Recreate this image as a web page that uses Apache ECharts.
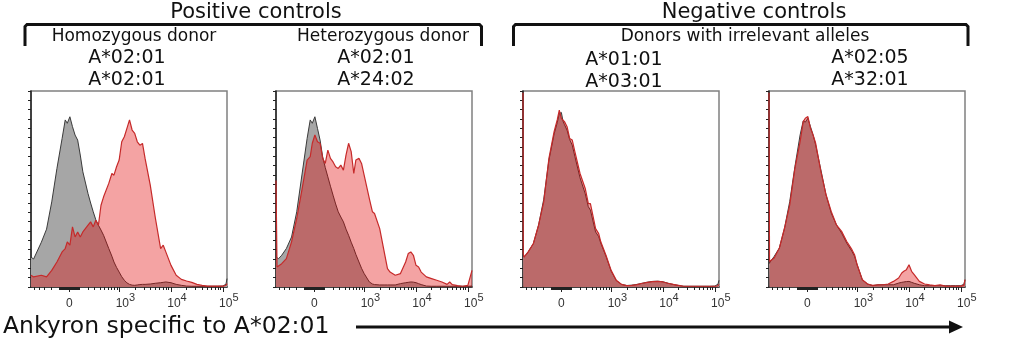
<!DOCTYPE html>
<html>
<head>
<meta charset="utf-8">
<script src="https://cdn.jsdelivr.net/npm/echarts@6/dist/echarts.min.js"></script>
<style>
html, body { margin: 0; padding: 0; background: #fff; }
#chart { width: 1024px; height: 340px; }
</style>
</head>
<body>
<div id="chart"></div>
<script>
// x values are positions on the biexponential display axis (1 unit = 1 decade, 10^3 -> 3)
// y values are % of the panel's max (modal scale)

// panel 1: homozygous A*02:01/A*02:01
const p1X = [1.3, 1.35, 1.5, 1.6, 1.7, 1.8, 1.9, 1.96, 2.0, 2.05, 2.1, 2.15, 2.2, 2.25, 2.3, 2.4, 2.45, 2.5, 2.55, 2.6, 2.65, 2.7, 2.8, 2.86, 2.9, 2.95, 3.0, 3.05, 3.1, 3.15, 3.2, 3.25, 3.3, 3.35, 3.4, 3.45, 3.5, 3.6, 3.7, 3.8, 3.85, 3.9, 4.0, 4.1, 4.2, 4.3, 4.4, 4.5, 4.6, 4.7, 4.8, 4.9, 5.0, 5.06, 5.08];
const p1Gray = [16, 15, 24, 31, 45.6, 63.5, 79.6, 89.5, 87.7, 91.2, 85.9, 81.4, 78.7, 70.7, 61.7, 50, 45, 40.3, 36, 33.1, 30.5, 27.7, 20.6, 16.5, 13.4, 10.5, 8, 5.5, 3.6, 2.2, 1.4, 1.0, 0.9, 1.1, 1.3, 1.4, 1.4, 1.6, 2, 2.3, 2.5, 2.7, 2.3, 1.4, 0.9, 0.5, 0.4, 0.4, 0.4, 0.4, 0.4, 0.4, 0.5, 1.5, 4.5];
const p1Red = [6.3, 5.4, 6.3, 5.4, 8.9, 13.4, 18.8, 20.6, 24.2, 22.4, 32.2, 26.8, 29.5, 26.8, 29.5, 33.1, 34.9, 32.2, 35.8, 33.1, 43.8, 48.3, 55.5, 60.8, 59.9, 64.4, 68, 77.8, 80.5, 85, 89.5, 84.1, 82.3, 77.8, 76, 76.9, 68.9, 54.6, 36.7, 20.6, 22.4, 18.8, 11.6, 6.3, 4.1, 3.2, 2.5, 1.4, 0.9, 0.5, 0.5, 0.5, 0.5, 0.8, 1.8];

// panel 2: heterozygous A*02:01/A*24:02
const p2X = [1.3, 1.32, 1.35, 1.41, 1.5, 1.6, 1.7, 1.8, 1.9, 1.96, 2.0, 2.05, 2.1, 2.15, 2.2, 2.25, 2.3, 2.35, 2.4, 2.45, 2.5, 2.55, 2.6, 2.65, 2.7, 2.75, 2.8, 2.84, 2.9, 2.95, 3.0, 3.1, 3.16, 3.2, 3.3, 3.4, 3.45, 3.5, 3.6, 3.7, 3.8, 3.85, 3.9, 3.95, 4.0, 4.05, 4.1, 4.2, 4.3, 4.4, 4.5, 4.6, 4.65, 4.7, 4.8, 4.9, 5.0, 5.08];
const p2Gray = [16, 15.5, 15.2, 17, 20.6, 26.8, 40.3, 60, 79.6, 89.5, 87.7, 91.2, 85, 78.7, 69.8, 64, 59, 54, 49.2, 44.5, 40.3, 37.5, 34.9, 31, 27.7, 24, 20.6, 17.5, 13.4, 10, 7.2, 2.7, 1.6, 1.3, 1.1, 1.1, 1.1, 1.1, 1.1, 1.8, 2.3, 2.5, 2.7, 2.6, 2.3, 1.8, 1.3, 0.5, 0.4, 0.4, 0.4, 0.4, 0.4, 0.4, 0.4, 0.4, 0.4, 0.5];
const p2Red = [57, 10.7, 10.2, 12.5, 15.2, 24.2, 36.7, 52, 68, 69.8, 77, 81.4, 77.8, 77, 68.9, 66.2, 73.3, 68.9, 67, 64.4, 63.5, 65.3, 62.6, 70.7, 77, 72.5, 60.8, 68, 68.9, 66.2, 59.9, 47.4, 40.3, 39.4, 31.3, 17, 9.8, 8, 6.3, 7.2, 13.4, 17.9, 18.8, 17, 11.6, 10.7, 8, 5.4, 4.5, 3.6, 2.7, 1.4, 2.7, 1.3, 0.7, 0.4, 0.9, 8.9];

// panel 3: A*01:01/A*03:01
const p3X = [1.3, 1.305, 1.32, 1.4, 1.5, 1.6, 1.7, 1.8, 1.9, 1.96, 2.0, 2.04, 2.07, 2.1, 2.15, 2.2, 2.25, 2.3, 2.4, 2.5, 2.56, 2.6, 2.7, 2.76, 2.8, 2.9, 3.0, 3.1, 3.2, 3.3, 3.4, 3.5, 3.6, 3.7, 3.8, 3.9, 4.0, 4.1, 4.2, 4.3, 4.4, 4.5, 4.7, 4.9, 5.0, 5.06, 5.08];
const p3Gray = [18, 17, 16, 18.8, 23.3, 33.1, 47, 68, 82, 88, 92.9, 93.5, 89, 87, 84, 79, 76, 70, 58.5, 50, 43, 41.2, 29.5, 27, 23.5, 16.5, 8.5, 3.4, 1.4, 0.8, 1, 1.4, 2, 2.6, 3, 3.1, 2.8, 2, 1.3, 0.8, 0.4, 0.4, 0.4, 0.4, 0.5, 1.5, 3.6];
const p3Red = [104, 18, 16, 18.8, 23.3, 33.1, 45.6, 68.9, 83.2, 89.5, 94.8, 90.3, 91.2, 88.6, 85.9, 79.6, 78.7, 72.5, 60.8, 52.8, 44.7, 44.7, 31.3, 28.6, 24.2, 17, 8.9, 3.6, 1.4, 0.7, 0.9, 1.3, 2, 2.5, 2.9, 3, 2.7, 2, 1.4, 0.9, 0.4, 0.4, 0.4, 0.4, 0.4, 0.6, 1.5];

// panel 4: A*02:05/A*32:01
const p4X = [1.3, 1.31, 1.4, 1.5, 1.6, 1.7, 1.8, 1.9, 1.96, 2.0, 2.05, 2.1, 2.15, 2.2, 2.3, 2.4, 2.5, 2.6, 2.7, 2.8, 2.9, 2.95, 3.0, 3.1, 3.2, 3.3, 3.4, 3.5, 3.6, 3.7, 3.8, 3.86, 3.9, 3.95, 4.0, 4.05, 4.1, 4.2, 4.3, 4.4, 4.5, 4.6, 4.7, 4.8, 4.9, 5.0, 5.06, 5.08];
const p4Gray = [12.5, 13, 16.4, 20.9, 31.6, 45.8, 64.5, 81.5, 89, 88.3, 90.4, 85.9, 81.5, 76.1, 62.8, 49.4, 39.6, 33.3, 28.9, 23.5, 19.1, 16.5, 11.9, 3.9, 1.6, 0.7, 1.2, 1.2, 1.2, 1.2, 2.1, 2.5, 2.7, 2.9, 3, 2.5, 2, 1.2, 0.7, 0.7, 0.7, 0.7, 0.7, 0.7, 0.7, 0.7, 1.5, 3.9];
const p4Red = [104, 13.7, 15.5, 20.9, 31.6, 44, 63.7, 77.9, 88.6, 90.4, 91.3, 85, 81.5, 77, 61.9, 49.4, 40.5, 33.3, 29.8, 24.4, 20, 17.3, 11.9, 3.9, 1.6, 0.9, 1.1, 1.2, 1.6, 3, 4.8, 7.5, 8.4, 9.3, 11.9, 8.4, 6.6, 3, 1.6, 1.1, 0.7, 1.2, 0.5, 0.5, 0.5, 0.5, 1, 3.9];

// axis ticks (raw fluorescence values) and labels
const majorTickValues = [0, 1000, 10000, 100000];
const majorTickLabels = ['{z|0}', '{b|10}{s|3}', '{b|10}{s|4}', '{b|10}{s|5}'];

const headings = ['Positive controls', 'Negative controls'];
const subheadings = ['Homozygous donor', 'Heterozygous donor', 'Donors with irrelevant alleles'];
const alleles = [['A*02:01', 'A*02:01'], ['A*02:01', 'A*24:02'], ['A*01:01', 'A*03:01'], ['A*02:05', 'A*32:01']];
const axisTitle = 'Ankyron specific to A*02:01';

// biexponential (arcsinh) display transform
const W = 110;
const toDisplay = (v) => Math.log10(W) + Math.asinh(v / (2 * W)) / Math.LN10;

const minorTickValues = [];
for (let v = -500; v <= -200; v += 100) minorTickValues.push(v);
for (let v = -100; v <= 100; v += 10) if (v !== 0) minorTickValues.push(v);
for (let d = 100; d <= 10000; d *= 10) {
  for (let k = 2; k <= 9; k++) minorTickValues.push(k * d);
}

const majorPos = majorTickValues.map(toDisplay);
const minorPos = minorTickValues.map(toDisplay);
const xMin = 1.3, xMax = 5.08;

const panels = [
  { x: p1X, gray: p1Gray, red: p1Red },
  { x: p2X, gray: p2Gray, red: p2Red },
  { x: p3X, gray: p3Gray, red: p3Red },
  { x: p4X, gray: p4Gray, red: p4Red },
];
const panelLefts = [31, 276, 523, 769];

const axisColor = '#222';
const labelFont = 'Liberation Sans';

const grid = [], xAxis = [], yAxis = [], series = [];
panels.forEach((p, i) => {
  grid.push({
    left: panelLefts[i], top: 91, width: 196, height: 196,
    show: true, borderColor: '#808080', borderWidth: 1.5, backgroundColor: 'transparent',
  });
  xAxis.push({
    gridIndex: i, type: 'value', min: xMin, max: xMax, position: 'bottom',
    axisLine: { show: true, onZero: false, lineStyle: { color: axisColor, width: 1.5 } },
    axisTick: { show: true, customValues: majorPos, length: 5, lineStyle: { color: axisColor } },
    axisLabel: {
      show: true, customValues: majorPos, margin: 4, color: '#333',
      formatter: (val) => {
        let best = 0;
        majorPos.forEach((m, j) => { if (Math.abs(m - val) < Math.abs(majorPos[best] - val)) best = j; });
        return majorTickLabels[best];
      },
      rich: {
        z: { fontSize: 12, fontFamily: labelFont, color: '#333', lineHeight: 26 },
        b: { fontSize: 12, fontFamily: labelFont, color: '#333', lineHeight: 26, padding: [0, 0, 0, 12] },
        s: { fontSize: 11, fontFamily: labelFont, color: '#333', padding: [0, 0, 13, 0] },
      },
    },
    splitLine: { show: false },
  });
  xAxis.push({
    gridIndex: i, type: 'value', min: xMin, max: xMax, position: 'bottom',
    axisLine: { show: false },
    axisTick: { show: true, customValues: minorPos, length: 3, lineStyle: { color: axisColor } },
    axisLabel: { show: false },
    splitLine: { show: false },
  });
  yAxis.push({
    gridIndex: i, type: 'value', min: 0, max: 105, interval: 20,
    axisLine: { show: true, onZero: false, lineStyle: { color: axisColor, width: 1.5 } },
    axisTick: { show: true, inside: false, length: 3, lineStyle: { color: axisColor } },
    minorTick: { show: true, splitNumber: 4, length: 3, lineStyle: { color: axisColor } },
    axisLabel: { show: false },
    splitLine: { show: false },
  });
  series.push({
    type: 'line', xAxisIndex: i * 2, yAxisIndex: i, z: 2,
    data: p.x.map((x, k) => [x, p.gray[k]]),
    showSymbol: false, symbol: 'none', smooth: false,
    lineStyle: { color: '#3a3a3a', width: 1 },
    areaStyle: { color: '#a6a6a6', opacity: 1 },
  });
  series.push({
    type: 'line', xAxisIndex: i * 2, yAxisIndex: i, z: 3,
    data: p.x.map((x, k) => [x, p.red[k]]),
    showSymbol: false, symbol: 'none', smooth: false,
    lineStyle: { color: '#c62a2a', width: 1.2 },
    areaStyle: { color: 'rgba(225, 0, 0, 0.36)', opacity: 1 },
  });
});

function text(str, x, y, size) {
  return {
    type: 'text', x, y, silent: true,
    style: {
      text: str, fill: '#111', font: size + 'px "DejaVu Sans"',
      align: 'center', verticalAlign: 'middle', textAlign: 'center', textVerticalAlign: 'middle',
    },
  };
}
function bracket(x1, x2) {
  return {
    type: 'polyline', silent: true,
    shape: { points: [[x1, 46], [x1, 26.5], [x1 + 2, 24.5], [x2 - 2, 24.5], [x2, 26.5], [x2, 46]] },
    style: { stroke: '#111', lineWidth: 3, fill: null },
  };
}

const alleleCenters = [[127, 58], [376, 58], [624, 60], [870, 58]];
const graphics = [
  text(headings[0], 256, 13, 21),
  text(headings[1], 754, 13, 21),
  bracket(25, 481.5),
  bracket(513.5, 968),
  text(subheadings[0], 134, 37, 17),
  text(subheadings[1], 383, 37, 17),
  text(subheadings[2], 745, 37, 17),
];
alleles.forEach((pair, i) => {
  graphics.push(text(pair[0], alleleCenters[i][0], alleleCenters[i][1], 19));
  graphics.push(text(pair[1], alleleCenters[i][0], alleleCenters[i][1] + 22, 19));
});
graphics.push({
  type: 'text', x: 3, y: 327, silent: true,
  style: { text: axisTitle, fill: '#111', font: '23.5px "DejaVu Sans"', align: 'left', verticalAlign: 'middle', textAlign: 'left', textVerticalAlign: 'middle' },
});
graphics.push({
  type: 'line', silent: true,
  shape: { x1: 356, y1: 327, x2: 952, y2: 327 },
  style: { stroke: '#111', lineWidth: 3 },
});
graphics.push({
  type: 'polygon', silent: true,
  shape: { points: [[949, 320.5], [963, 327], [949, 333.5]] },
  style: { fill: '#111' },
});

const chart = echarts.init(document.getElementById('chart'));
chart.setOption({
  animation: false,
  backgroundColor: '#fff',
  grid, xAxis, yAxis, series,
  graphic: { elements: graphics },
});
window.addEventListener('resize', () => chart.resize());
</script>
</body>
</html>
